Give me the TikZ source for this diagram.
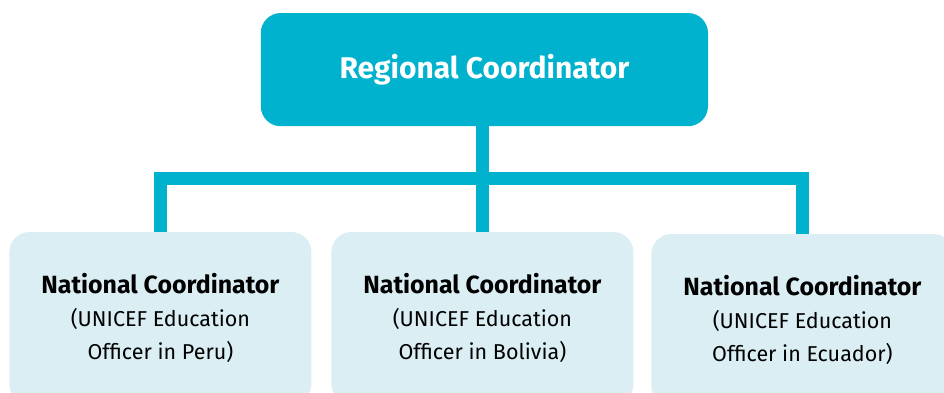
\documentclass[tikz,border=0pt]{standalone}
\usepackage{fontspec}
\setmainfont{Fira Sans}
\usetikzlibrary{positioning}

\definecolor{teal}{HTML}{00B2CD}
\definecolor{paleblue}{HTML}{DAEEF3}

\newcommand{\headfont}{\fontsize{17.7}{23.4}\selectfont\bfseries}

\begin{document}
\begin{tikzpicture}[
		topbox/.style = {fill = teal, rounded corners = 0.5cm, minimum width = 11.18cm, minimum height = 2.83cm, text = white, font = \fontsize{21.3}{26}\selectfont\bfseries},
		countrybox/.style = {fill = paleblue, rounded corners = 0.5cm, minimum width = 7.55cm, minimum height = 4.3cm, align = center, font = \fontsize{15.3}{23.4}\selectfont},
		link/.style = {draw = teal, line width = 0.34cm}
	]
	
	% Frame of the picture
	
	\useasboundingbox (0, 0) rectangle (23.6, -9.8);
	
	% Regional box
	
	\node [topbox] (regional) at (12.11, -1.74) {Regional Coordinator};
	
	% National boxes
	
	\node [countrybox] (peru) at (4.01, -7.95) {{\headfont National Coordinator}\\(UNICEF Education\\Officer in Peru)};
	\node [countrybox] (bolivia) at (12.06, -7.95) {{\headfont National Coordinator}\\(UNICEF Education\\Officer in Bolivia)};
	\node [countrybox] (ecuador) at (20.06, -8.0) {{\headfont National Coordinator}\\(UNICEF Education\\Officer in Ecuador)};
	
	% Connectors
	
	\coordinate (bar) at (12.06, -4.46);
	
	\begin{scope}[link]
	
		\draw (bar |- regional.south) -- (bar) -| (peru.north);
		\draw (bar) -| (ecuador.north);
		\draw (bar) -- (bolivia.north);
		
	\end{scope}

\end{tikzpicture}
\end{document}
